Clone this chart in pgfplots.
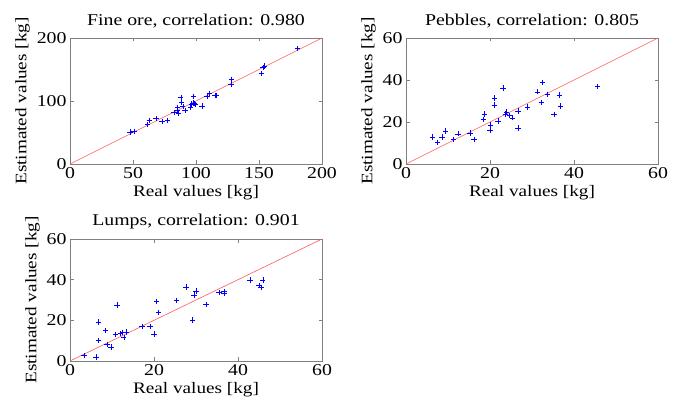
\documentclass[border=0pt]{standalone}
\usepackage{fontspec}
\setmainfont{Liberation Serif}[FakeStretch=1.2]
\usepackage{pgfplots}
\pgfplotsset{compat=1.18}

\definecolor{axgray}{RGB}{128,128,128}
\definecolor{fitred}{RGB}{255,90,90}

\pgfplotsset{
  mat/.style={
    scale only axis,
    width=252pt,
    axis line style={draw=axgray, line width=0.6pt},
    tick style={draw=axgray, line width=0.6pt},
    tick align=inside,
    tick pos=both,
    major tick length=3.5pt,
    ticklabel style={font=\fontsize{16.5}{16.5}\selectfont},
    label style={font=\fontsize{16}{18}\selectfont},
    title style={font=\fontsize{16.5}{18}\selectfont},
    /pgf/number format/assume math mode=true,
    xlabel={Real values [kg]},
    ylabel={Estimated values [kg]},
    anchor=south west,
  },
  pts/.style={only marks, mark=+, color=blue, mark size=2.7pt, mark options={line width=0.5pt}},
  fit/.style={no marks, draw=fitred, line width=0.6pt},
}

\begin{document}
\begin{tikzpicture}
\useasboundingbox (0,0) rectangle (680pt,401pt);

% fine ore
\begin{axis}[mat, at={(70pt,237pt)}, height=126pt,
    title={Fine ore, correlation: 0.980},
    xmin=0, xmax=200, ymin=0, ymax=200,
    xtick={0,50,100,150,200}, ytick={0,100,200}]
\addplot[fit] coordinates {(0,0) (200,200)};
\addplot[pts] coordinates {
(47.7,50.8) (50.9,51.9) (61.5,62.4) (63.0,68.8) (68.3,72.0) (73.1,67.7)
(77.4,69.3) (82.6,81.5) (84.8,85.2) (85.3,90.0) (86.1,79.9) (87.9,105.8)
(88.5,98.4) (89.5,91.0) (91.4,84.7) (95.4,89.4) (96.2,95.2) (98.0,106.9)
(97.5,96.8) (99.3,94.2) (98.5,95.8) (104.9,92.0) (108.6,107.9) (110.7,111.6)
(115.2,109.0) (116.0,108.5) (127.7,125.9) (128.2,134.4) (151.8,143.4)
(153.1,153.4) (154.2,155.6) (180.7,183.0)
};
\end{axis}

% pebbles
\begin{axis}[mat, at={(406pt,237pt)}, height=126pt,
    title={Pebbles, correlation: 0.805},
    xmin=0, xmax=60, ymin=0, ymax=60,
    xtick={0,20,40,60}, ytick={0,20,40,60}]
\addplot[fit] coordinates {(0,0) (60,60)};
\addplot[pts] coordinates {
(6.3,12.8) (7.5,10.3) (8.6,12.8) (9.4,15.8) (11.3,11.8) (12.4,14.4)
(15.2,14.7) (16.2,11.8) (18.4,21.3) (18.7,23.8) (20.1,18.6) (20.0,16.1)
(21.0,28.1) (21.1,31.4) (21.9,20.4) (23.1,36.2) (23.7,23.8) (23.9,24.8)
(24.7,23.1) (25.3,22.0) (26.7,25.3) (26.7,17.2) (28.9,27.2) (31.3,34.4)
(32.3,29.4) (32.5,38.7) (33.7,33.2) (35.2,23.5) (36.5,32.8) (36.8,27.6)
(45.6,36.8)
};
\end{axis}

% lumps
\begin{axis}[mat, at={(70pt,40pt)}, height=122pt,
    title={Lumps, correlation: 0.901},
    xmin=0, xmax=60, ymin=0, ymax=60,
    xtick={0,20,40,60}, ytick={0,20,40,60}]
\addplot[fit] coordinates {(0,0) (60,60)};
\addplot[pts] coordinates {
(3.3,2.6) (6.2,2.0) (6.8,19.2) (6.8,10.2) (8.5,15.1) (8.8,8.2) (9.8,6.9)
(10.8,13.1) (11.2,27.5) (12.0,13.6) (12.5,14.1) (12.8,11.5) (13.5,14.3)
(17.1,16.9) (19.0,16.9) (20.0,13.3) (20.6,29.3) (21.0,23.8) (25.3,29.8)
(27.6,36.4) (29.1,20.2) (29.5,32.5) (30.0,34.4) (32.4,27.9) (35.5,33.6)
(36.7,34.1) (36.7,33.4) (42.9,39.8) (45.0,37.2) (45.5,36.2) (45.9,39.8)
};
\end{axis}
\end{tikzpicture}
\end{document}
